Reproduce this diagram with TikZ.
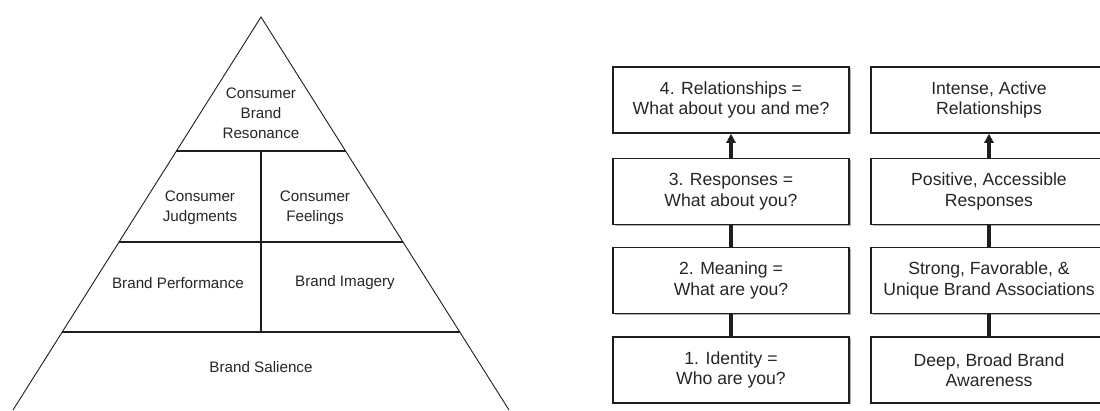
\documentclass[tikz,border=0pt]{standalone}
\usepackage{fontspec}
\setmainfont{Liberation Sans}
\usetikzlibrary{arrows.meta,shadows,calc}
\definecolor{ink}{HTML}{1E1E1E}
\definecolor{txt}{HTML}{262626}
\begin{document}
\begin{tikzpicture}[x=1pt,y=-1pt,
  pyrtext/.style={align=center,text=txt,font=\fontsize{15.2}{20}\selectfont},
  stepbox/.style={draw=ink,line width=1.5pt,fill=white,minimum width=236pt,minimum height=66pt,
    align=center,text=txt,font=\fontsize{17.6}{20.5}\selectfont,
    drop shadow={shadow xshift=1.8pt,shadow yshift=-1.3pt,fill=black!50,opacity=0.6}},
  link/.style={draw=ink,line width=3.6pt},
  uplink/.style={link,-{Triangle[width=9pt,length=9pt]}}]
\useasboundingbox (0,0) rectangle (1100,410);
\clip (0,0) rectangle (1100,410);
\fill[white] (0,0) rectangle (1100,410);

% pyramid outline
\coordinate (apex) at (261,17);
\coordinate (bl) at (13,410);
\coordinate (br) at (509,410);
\draw[ink,line width=0.9pt] (bl) -- (apex) -- (br);

% tier boundaries
\coordinate (l1) at ($(apex)!0.341!(bl)$);  \coordinate (r1) at ($(apex)!0.341!(br)$);
\coordinate (l2) at ($(apex)!0.5725!(bl)$); \coordinate (r2) at ($(apex)!0.5725!(br)$);
\coordinate (l3) at ($(apex)!0.8015!(bl)$); \coordinate (r3) at ($(apex)!0.8015!(br)$);
\draw[ink,line width=1.6pt] (l1) -- (r1);
\draw[ink,line width=1.6pt] (l2) -- (r2);
\draw[ink,line width=1.1pt] (l3) -- (r3);
\coordinate (m1) at ($(l1)!0.5!(r1)$);
\coordinate (m3) at ($(l3)!0.5!(r3)$);
\draw[ink,line width=1.1pt] (m1) -- (m3);

% tier labels
\node[pyrtext] (res)  at (261,113) {Consumer\\Brand\\Resonance};
\node[pyrtext] (jud)  at (200,208) {Consumer\\Judgments};
\node[pyrtext] (feel) at (315,208) {Consumer\\Feelings};
\node[pyrtext] (perf) at (178,283) {Brand Performance};
\node[pyrtext] (img)  at (345,283) {Brand Imagery};
\node[pyrtext] (sal)  at (261,367) {Brand Salience};

% steps (left) and objectives (right)
\node[stepbox] (s4) at (731,100)   {4. Relationships =\\What about you and me?};
\node[stepbox] (s3) at (731,191.5) {3. Responses =\\What about you?};
\node[stepbox] (s2) at (731,280.5) {2. Meaning =\\What are you?};
\node[stepbox] (s1) at (731,370)   {1. Identity =\\Who are you?};

\node[stepbox] (o4) at (989,100)   {Intense, Active\\Relationships};
\node[stepbox] (o3) at (989,191.5) {Positive, Accessible\\Responses};
\node[stepbox] (o2) at (989,280.5) {Strong, Favorable, \&\\Unique Brand Associations};
\node[stepbox] (o1) at (989,370)   {Deep, Broad Brand\\Awareness};

% connectors
\draw[link] (s1.north) -- (s2.south);
\draw[link] (s2.north) -- (s3.south);
\draw[uplink] (s3.north) -- (s4.south);
\draw[link] (o1.north) -- (o2.south);
\draw[link] (o2.north) -- (o3.south);
\draw[uplink] (o3.north) -- (o4.south);
\end{tikzpicture}
\end{document}
